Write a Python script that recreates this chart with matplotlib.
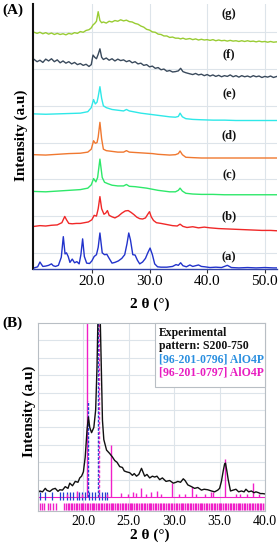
import matplotlib
matplotlib.use("Agg")
import matplotlib.pyplot as plt

plt.rcParams['font.family'] = ['Liberation Serif', 'DejaVu Serif']

# ---------------- Panel A data ----------------
xa = [10.0, 10.6, 11.0, 11.2, 11.5, 12.0, 12.5, 13.0, 13.3, 13.7, 14.2, 14.7, 15.05, 15.35, 15.6, 15.9,
      16.2, 16.6, 17.0, 17.4, 17.8, 18.1, 18.4, 18.7, 19.1, 19.6, 20.0, 20.4, 20.8, 21.1, 21.4, 21.8,
      22.2, 22.6, 23.0, 23.5, 24.0, 24.6, 25.2, 25.7, 26.1, 26.4, 26.7, 27.1, 27.5, 27.9, 28.3, 28.8,
      29.3, 29.7, 30.1, 30.5, 30.9, 31.4, 32.0, 33.0, 34.0, 34.6, 35.0, 35.4, 35.8, 36.4, 37.0, 37.5,
      38.0, 38.5, 39.0, 39.6, 40.5, 41.5, 42.5, 43.5, 44.2, 45.5, 47.0, 48.5, 50.0, 51.5, 52.1]
ya = [-0.41, -0.38, -0.25, -0.3, -0.37, -0.36, -0.34, -0.3, -0.35, -0.37, -0.34, -0.12, 0.44, -0.03, 0.0, -0.1,
      -0.26, -0.17, -0.27, -0.24, -0.3, -0.05, 0.38, -0.1, -0.28, -0.29, -0.22, -0.1, -0.05, 0.15, 0.54, 0.0,
      -0.05, -0.04, -0.15, -0.28, -0.26, -0.22, -0.15, -0.05, 0.25, 0.54, 0.35, -0.05, -0.06, -0.2, -0.3, -0.25,
      -0.15, 0.0, 0.13, -0.05, -0.3, -0.38, -0.39, -0.39, -0.37, -0.32, -0.34, -0.27, -0.35, -0.38, -0.33, -0.37,
      -0.35, -0.33, -0.37, -0.38, -0.4, -0.39, -0.4, -0.34, -0.4, -0.41, -0.4, -0.41, -0.4, -0.41, -0.41]

xb = [10.0, 11.0, 12.0, 13.0, 14.0, 14.8, 15.3, 15.6, 16.0, 16.6, 17.3, 18.0, 18.7, 19.4, 20.0, 20.4,
      20.8, 21.1, 21.4, 21.7, 22.1, 22.4, 22.7, 23.0, 23.5, 24.0, 24.6, 25.2, 25.8, 26.3, 26.8, 27.3,
      27.8, 28.3, 28.8, 29.3, 29.7, 30.0, 30.3, 30.7, 31.2, 32.0, 33.0, 34.0, 34.8, 35.3, 35.8, 36.5,
      37.5, 38.5, 39.5, 40.5, 42.0, 43.5, 45.0, 46.5, 48.0, 49.5, 51.0, 52.1]
yb = [0.72, 0.74, 0.73, 0.75, 0.76, 0.82, 0.99, 0.9, 0.8, 0.79, 0.8, 0.8, 0.82, 0.84, 0.9, 1.02,
      1.0, 1.2, 1.53, 1.2, 1.05, 1.08, 1.15, 1.02, 0.98, 0.95, 1.0, 1.08, 1.14, 1.15, 1.1, 1.04,
      0.97, 0.93, 0.92, 0.95, 1.05, 1.12, 0.98, 0.88, 0.82, 0.8, 0.77, 0.74, 0.73, 0.78, 0.72, 0.69,
      0.71, 0.68, 0.7, 0.68, 0.66, 0.65, 0.64, 0.63, 0.62, 0.61, 0.61, 0.6]

xc = [10.0, 12.0, 14.0, 16.0, 18.0, 19.3, 19.9, 20.3, 20.7, 21.0, 21.4, 21.8, 22.2, 22.8, 23.5, 24.5,
      25.5, 26.0, 26.5, 27.5, 28.5, 29.5, 30.5, 31.5, 32.5, 33.5, 34.5, 35.0, 35.3, 35.7, 36.3, 37.5,
      39.0, 41.0, 43.0, 45.0, 47.0, 49.0, 51.0, 52.1]
yc = [1.67, 1.66, 1.68, 1.7, 1.72, 1.76, 1.85, 2.02, 1.93, 2.05, 2.55, 2.05, 1.92, 1.88, 1.84, 1.82,
      1.82, 1.86, 1.81, 1.8, 1.78, 1.76, 1.73, 1.7, 1.68, 1.66, 1.66, 1.7, 1.76, 1.68, 1.62, 1.6,
      1.59, 1.59, 1.58, 1.58, 1.58, 1.58, 1.58, 1.58]

xd = [10.0, 12.0, 14.0, 16.0, 18.0, 19.3, 19.9, 20.3, 20.6, 20.9, 21.1, 21.4, 21.7, 22.0, 22.5, 23.5,
      24.5, 25.5, 26.0, 26.5, 27.5, 28.5, 29.5, 30.5, 31.5, 32.5, 33.5, 34.5, 35.0, 35.3, 35.7, 36.3,
      37.5, 39.0, 41.0, 43.0, 45.0, 47.0, 49.0, 51.0, 52.1]
yd = [2.67, 2.66, 2.68, 2.7, 2.71, 2.74, 2.82, 3.05, 2.98, 3.0, 3.15, 3.55, 3.1, 2.82, 2.78, 2.76,
      2.74, 2.74, 2.78, 2.74, 2.73, 2.72, 2.71, 2.7, 2.68, 2.67, 2.66, 2.67, 2.7, 2.77, 2.67, 2.6,
      2.59, 2.58, 2.58, 2.58, 2.58, 2.58, 2.58, 2.58, 2.58]

xe = [10.0, 12.0, 14.0, 16.0, 18.0, 19.3, 19.9, 20.3, 20.6, 20.9, 21.1, 21.4, 21.7, 22.0, 22.5, 23.5,
      24.5, 25.5, 26.0, 26.5, 27.5, 28.5, 29.5, 30.5, 31.5, 32.5, 33.5, 34.5, 35.0, 35.3, 35.7, 36.3,
      37.5, 39.0, 41.0, 43.0, 45.0, 47.0, 49.0, 51.0, 52.1]
ye = [3.78, 3.77, 3.78, 3.79, 3.8, 3.84, 3.95, 4.17, 4.05, 4.1, 4.25, 4.52, 4.2, 4.0, 3.95, 3.9,
      3.88, 3.86, 3.9, 3.86, 3.83, 3.8, 3.78, 3.76, 3.74, 3.72, 3.7, 3.69, 3.71, 3.8, 3.7, 3.65,
      3.63, 3.62, 3.61, 3.61, 3.6, 3.6, 3.6, 3.6, 3.6]

xf = [10.0, 10.5, 11.0, 11.5, 12.0, 12.5, 13.0, 13.5, 14.0, 14.5, 15.0, 15.5, 16.0, 16.5, 17.0, 17.5,
      18.0, 18.5, 19.0, 19.5, 19.9, 20.2, 20.5, 20.8, 21.1, 21.4, 21.7, 22.0, 22.5, 23.0, 23.5, 24.0,
      24.5, 25.0, 25.5, 26.0, 26.5, 27.0, 27.5, 28.0, 28.5, 29.0, 29.5, 30.0, 30.5, 31.0, 31.5, 32.0,
      32.5, 33.0, 33.5, 34.0, 34.5, 35.0, 35.4, 35.8, 36.3, 37.0, 37.5, 38.0, 38.5, 39.0, 39.5, 40.0,
      40.5, 41.0, 41.5, 42.0, 42.5, 43.0, 43.5, 44.0, 44.5, 45.0, 45.5, 46.0, 46.5, 47.0, 47.5, 48.0,
      48.5, 49.0, 49.5, 50.0, 50.5, 51.0, 51.5, 52.1]
yf = [5.26, 5.2, 5.24, 5.18, 5.27, 5.22, 5.28, 5.2, 5.25, 5.17, 5.22, 5.16, 5.2, 5.14, 5.18, 5.12,
      5.15, 5.1, 5.13, 5.07, 5.12, 5.38, 5.32, 5.28, 5.4, 5.55, 5.32, 5.26, 5.3, 5.24, 5.28, 5.22,
      5.27, 5.23, 5.25, 5.2, 5.23, 5.17, 5.2, 5.14, 5.16, 5.1, 5.12, 5.06, 5.08, 5.02, 5.04, 4.98,
      5.0, 4.94, 4.96, 4.92, 4.93, 4.95, 5.02, 4.93, 4.9, 4.87, 4.85, 4.88, 4.84, 4.86, 4.82, 4.85,
      4.81, 4.84, 4.8, 4.83, 4.79, 4.82, 4.8, 4.84, 4.79, 4.82, 4.78, 4.82, 4.79, 4.81, 4.78, 4.82,
      4.79, 4.81, 4.77, 4.8, 4.78, 4.81, 4.77, 4.8]

xg = xf
yg = [6.0, 5.97, 6.0, 5.96, 5.99, 5.95, 5.98, 5.94, 5.97, 5.94, 5.96, 5.93, 5.97, 5.95, 5.99, 5.97,
      6.02, 6.0, 6.05, 6.07, 6.12, 6.2, 6.24, 6.3, 6.56, 6.32, 6.26, 6.28, 6.25, 6.3, 6.28, 6.32,
      6.3, 6.34, 6.31, 6.33, 6.29, 6.28, 6.24, 6.22, 6.17, 6.14, 6.08, 6.06, 6.01, 6.0, 5.95, 5.94,
      5.9, 5.9, 5.86, 5.87, 5.84, 5.84, 5.82, 5.84, 5.81, 5.83, 5.8, 5.82, 5.79, 5.81, 5.79, 5.8,
      5.78, 5.8, 5.77, 5.79, 5.77, 5.78, 5.76, 5.78, 5.76, 5.77, 5.75, 5.77, 5.75, 5.77, 5.75, 5.76,
      5.74, 5.76, 5.74, 5.75, 5.73, 5.75, 5.73, 5.74]

series_A = [
    ("(a)", xa, ya, "#2233cc"),
    ("(b)", xb, yb, "#f02828"),
    ("(c)", xc, yc, "#2ee86a"),
    ("(d)", xd, yd, "#f07830"),
    ("(e)", xe, ye, "#2ee8e8"),
    ("(f)", xf, yf, "#3a4a5c"),
    ("(g)", xg, yg, "#99cc33"),
]
label_y_A = [-0.12, 1.0, 2.1, 3.2, 4.3, 5.4, 6.5]
xticks_A = [20, 30, 40, 50]
xticklabels_A = ["20.0", "30.0", "40.0", "50.0"]

# ---------------- Panel B data ----------------
xB = [15.0, 15.2, 15.5, 15.8, 16.0, 16.3, 16.6, 16.9, 17.2, 17.4, 17.7, 18.0, 18.3, 18.5, 18.8, 19.1,
      19.4, 19.6, 19.8, 20.0, 20.2, 20.4, 20.55, 20.7, 20.9, 21.15, 21.35, 21.5, 21.65, 21.8, 21.95, 22.1,
      22.25, 22.55, 22.9, 23.2, 23.45, 23.7, 24.0, 24.3, 24.5, 24.75, 25.1, 25.4, 25.6, 25.85, 26.1, 26.4,
      26.75, 27.0, 27.3, 27.6, 27.85, 28.1, 28.4, 28.7, 29.1, 29.5, 29.9, 30.2, 30.4, 30.7, 31.0, 31.2,
      31.5, 31.9, 32.25, 32.6, 33.0, 33.3, 33.7, 34.1, 34.45, 34.8, 35.0, 35.2, 35.4, 35.55, 35.65, 35.8,
      35.95, 36.2, 36.5, 36.8, 37.1, 37.4, 37.7, 37.9, 38.2, 38.5, 38.8, 39.0, 39.3, 39.5, 39.75, 40.0]
yB = [0.25, 0.35, 0.3, 0.5, 0.38, 0.32, 0.45, 0.5, 0.33, 0.42, 0.4, 0.6, 0.5, 0.8, 0.65, 0.9,
      0.85, 1.1, 1.2, 1.45, 2.3, 3.85, 4.6, 4.0, 3.7, 4.0, 5.0, 7.5, 11.5, 11.5, 8.0, 4.4,
      3.3, 2.7, 2.5, 2.3, 2.1, 2.0, 1.75, 1.7, 1.5, 1.45, 1.4, 1.25, 1.35, 1.2, 1.3, 1.65,
      1.2, 1.3, 1.1, 1.2, 1.15, 1.2, 1.0, 1.1, 0.9, 0.95, 0.8, 0.85, 0.9, 0.85, 1.05, 0.95,
      0.7, 0.6, 0.5, 0.55, 0.4, 0.45, 0.42, 0.35, 0.3, 0.4, 0.5, 0.9, 1.5, 1.9, 1.95, 1.5,
      1.0, 0.35, 0.4, 0.45, 0.3, 0.35, 0.3, 0.45, 0.3, 0.35, 0.25, 0.3, 0.25, 0.2, 0.2, 0.18]

stick_0797_x = [20.4, 23.0, 29.75, 31.95, 35.6, 38.65, 18.2, 19.3, 19.8, 22.6, 24.1, 24.9, 25.5, 25.8,
                26.3, 26.9, 27.4, 28.1, 28.5, 30.5, 31.2, 32.4, 33.4, 34.0, 34.3, 36.8, 37.3, 38.0, 39.3]
stick_0797_h = [11.0, 3.0, 0.8, 0.6, 2.2, 0.8, 0.2, 0.35, 0.2, 0.2, 0.25, 0.2, 0.3, 0.25,
                0.5, 0.2, 0.3, 0.35, 0.2, 0.15, 0.2, 0.2, 0.15, 0.3, 0.3, 0.15, 0.2, 0.2, 0.15]
dashed_0797_x = [21.7]
dashed_0797_h = [11.0]
stick_0796_x = [20.55, 21.62]
stick_0796_h = [5.5, 11.0]
tick_0796_x = [15.2, 15.8, 16.5, 17.4, 17.8, 18.2, 18.5, 18.9, 19.3, 19.5, 19.8, 20.2, 20.6, 20.9,
               21.3, 21.7, 22.0, 22.4, 22.6]
rug_0797_x = [15.2, 15.45, 15.7, 16.05, 16.35, 16.6, 17.0, 17.9, 18.1, 18.3, 18.45, 18.6, 18.8, 19.0,
              19.15, 19.3, 19.5, 19.7, 19.85, 20.0, 20.2, 20.4, 20.55, 20.7, 20.9, 21.05, 21.2, 21.4,
              21.6, 21.75, 21.9, 22.1, 22.3, 22.45, 22.6, 22.8, 23.0, 23.15, 23.3, 23.5, 23.7, 23.85,
              24.0, 24.2, 24.4, 24.55, 24.7, 24.9, 25.1, 25.25, 25.4, 25.6, 25.8, 25.95, 26.1, 26.3,
              26.5, 26.65, 26.8, 27.0, 27.2, 27.35, 27.5, 27.7, 27.9, 28.05, 28.2, 28.4, 28.6, 28.75,
              28.9, 29.1, 29.3, 29.45, 29.6, 29.8, 30.0, 30.15, 30.3, 30.5, 30.7, 30.85, 31.0, 31.2,
              31.4, 31.55, 31.7, 31.9, 32.1, 32.25, 32.4, 32.6, 32.8, 32.95, 33.1, 33.3, 33.5, 33.65,
              33.8, 34.0, 34.2, 34.35, 34.5, 34.7, 34.9, 35.05, 35.2, 35.4, 35.6, 35.75, 35.9, 36.1,
              36.3, 36.45, 36.6, 36.8, 37.0, 37.15, 37.3, 37.5, 37.7, 37.85, 38.0, 38.2, 38.4, 38.55,
              38.7, 38.9, 39.1, 39.25, 39.4, 39.6, 39.8, 39.95]
xticks_B = [20, 25, 30, 35, 40]
xticklabels_B = ["20.0", "25.0", "30.0", "35.0", "40.0"]
legend_lines = ["Experimental", "pattern: S200-750", "[96-201-0796] AlO4P", "[96-201-0797] AlO4P"]
legend_colors = ["#111111", "#111111", "#2a8fe0", "#e81cc0"]

MAG = "#f020c8"
BLUE = "#1f3fd0"
GRID = "#dde4ea"

fig = plt.figure(figsize=(2.8, 5.45), dpi=100)

# ---------------- Panel A ----------------
axA = fig.add_axes([0.118, 0.5064, 0.871, 0.4863])
axA.set_xlim(9.8, 52.1)
axA.set_ylim(-0.44, 6.77)
axA.set_yticks([0, 1, 2, 3, 4, 5, 6])
axA.set_xticks(xticks_A)
axA.set_xticklabels(xticklabels_A, fontsize=11)
axA.grid(True, color=GRID, lw=0.8)
axA.set_axisbelow(True)
axA.tick_params(axis='y', left=False, labelleft=False)
axA.tick_params(axis='x', length=3, width=0.8, pad=1, color="#333333")
for s in ["top", "right"]:
    axA.spines[s].set_visible(False)
axA.spines["left"].set_linewidth(1.5)
axA.spines["left"].set_color("#111111")
axA.spines["bottom"].set_color("#3344aa")
axA.spines["bottom"].set_linewidth(1.0)
for (lab, x, y, col), ly in zip(series_A, label_y_A):
    axA.plot(x, y, color=col, lw=1.0)
    axA.text(43.8, ly, lab, fontsize=9, fontweight="bold", ha="center", va="center", color="#111111")

fig.text(2 / 280, 1 - 10 / 545, "(A)", fontsize=11, fontweight="bold", ha="left", va="center")
fig.text(21 / 280, 1 - 135 / 545, "Intensity (a.u)", fontsize=11, fontweight="bold",
         rotation=90, ha="center", va="center")
fig.text(150 / 280, 1 - 304 / 545, "2 θ (°)", fontsize=11, fontweight="bold", ha="center", va="center")

# ---------------- Panel B ----------------
axB = fig.add_axes([0.1357, 0.0624, 0.8107, 0.3449])
axB.set_xlim(15, 40)
axB.set_ylim(-0.8, 10)
axB.set_yticks([1, 2, 3, 4, 5, 6, 7, 8, 9])
axB.set_xticks(xticks_B)
axB.set_xticklabels(xticklabels_B, fontsize=10)
axB.grid(True, color=GRID, lw=0.8)
axB.set_axisbelow(True)
axB.tick_params(axis='y', left=False, labelleft=False)
axB.tick_params(axis='x', length=0, pad=3)
for s in axB.spines.values():
    s.set_color("#b8bec4")
    s.set_linewidth(0.8)

axB.hlines(0, 15, 40, color=MAG, lw=0.8)
axB.vlines(rug_0797_x, -0.75, -0.35, color=MAG, lw=1.0)
axB.vlines(tick_0796_x, -0.15, 0.3, color=BLUE, lw=0.9)
axB.vlines(stick_0797_x, 0, stick_0797_h, color=MAG, lw=1.0)
axB.vlines(stick_0796_x, 0, stick_0796_h, color=BLUE, lw=1.0, linestyles=(0, (2, 1)))
axB.vlines(dashed_0797_x, 0, dashed_0797_h, color=MAG, lw=1.0, linestyles=(0, (2, 1.5)))
axB.plot(xB, yB, color="#111111", lw=1.0)

# legend box
lx0, ly0 = 155 / 280, 1 - 387 / 545
lw_, lh_ = (265 - 155) / 280, (387 - 323) / 545
fig.patches.append(plt.Rectangle((lx0, ly0), lw_, lh_, transform=fig.transFigure,
                                 facecolor="white", edgecolor="#b8bec4", lw=0.8, zorder=5))
for i, (t, c) in enumerate(zip(legend_lines, legend_colors)):
    fig.text(159 / 280, 1 - (333 + 13.3 * i) / 545, t, fontsize=8.5, fontweight="bold",
             color=c, ha="left", va="center", zorder=6)

fig.text(2 / 280, 1 - 323 / 545, "(B)", fontsize=11, fontweight="bold", ha="left", va="center")
fig.text(29 / 280, 1 - 411 / 545, "Intensity (a.u)", fontsize=11, fontweight="bold",
         rotation=90, ha="center", va="center")
fig.text(150 / 280, 1 - 535 / 545, "2 θ (°)", fontsize=11, fontweight="bold", ha="center", va="center")

fig.savefig("out.png", dpi=100)
